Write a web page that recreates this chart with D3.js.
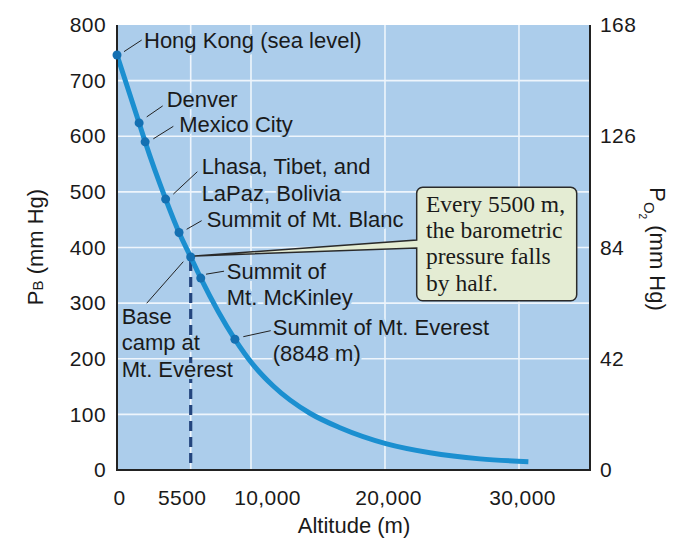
<!DOCTYPE html>
<html><head><meta charset="utf-8">
<script src="https://cdn.jsdelivr.net/npm/d3@7/dist/d3.min.js"></script>
<style>body{margin:0;background:#fff}svg{display:block}</style>
</head><body><svg id="c" width="682" height="548"></svg>
<script>
// ---- data ----
const altitudeTicks = [0, 5500, 10000, 20000, 30000];
const altitudeTickLabels = ["0", "5500", "10,000", "20,000", "30,000"];
const altitudeGrid = [5500, 10000, 20000, 30000];
const pbTicks = [0, 100, 200, 300, 400, 500, 600, 700, 800];
const po2Ticks = [0, 42, 84, 126, 168];
const curveAltitudes = [0, 1650, 2100, 3630, 4630, 5500, 6250, 8800, 10170, 11660, 14400, 16640, 20130, 23360, 27090, 30700];
const curvePressures = [746, 624, 590, 487, 427, 383, 345, 235, 189, 151, 102, 76, 47, 31, 20, 15];
const siteNames = [
  ["Hong Kong (sea level)"], ["Denver"], ["Mexico City"],
  ["Lhasa, Tibet, and", "LaPaz, Bolivia"], ["Summit of Mt. Blanc"],
  ["Base", "camp at", "Mt. Everest"], ["Summit of", "Mt. McKinley"],
  ["Summit of Mt. Everest", "(8848 m)"]
];
const siteAltitudes = [0, 1650, 2100, 3630, 4630, 5500, 6250, 8800];
const sitePressures = [746, 624, 590, 487, 427, 383, 345, 235];
const halvingAltitude = 5500;
const calloutLines = ["Every 5500 m,", "the barometric", "pressure falls", "by half."];

// ---- layout (positions/styles) ----
const L = {left: 117, right: 590, top: 25, bottom: 470};
const labelOffsets = [ // label dx,dy and leader from/to, relative to the point
  {dx: 27, dy: -7,   l: [7, -3.4, 24.7, -15]},
  {dx: 27.6, dy: -16, l: [7.6, -6, 23.6, -17]},
  {dx: 34, dy: -9.5, l: [8.2, -3, 28.2, -15.5]},
  {dx: 36, dy: -25,  l: [7.7, -5, 31.7, -27.4]},
  {dx: 27.6, dy: -5.8, l: [7.6, -3.2, 22.6, -11.8]},
  {dx: -69, dy: 67,  l: [-7.4, 4.7, -44, 46.3]},
  {dx: 26, dy: 0.5,  l: [5.3, -3.9, 23.3, -6.9]},
  {dx: 37.8, dy: -4.3, l: [8.4, -2.6, 35.8, -8.6]}
];
const tickLabelShift = [2, -9, 16, 3, 3];
const SANS = "'Liberation Sans', Arial, Helvetica, sans-serif";
const SERIF = "'Liberation Serif', 'Times New Roman', serif";
const BG = "#accdeb";

const svg = d3.select("#c");
const x = d3.scaleLinear().domain([0, 35300]).range([L.left, L.right]);
const y = d3.scaleLinear().domain([0, 800]).range([L.bottom, L.top]);
const y2 = d3.scaleLinear().domain([0, 168]).range([L.bottom, L.top]);

// background
svg.append("rect").attr("x", L.left).attr("y", L.top)
  .attr("width", L.right - L.left).attr("height", L.bottom - L.top).attr("fill", BG);

// grid
svg.append("g").selectAll("line").data(pbTicks.filter(d => d > 0 && d < 800)).join("line")
  .attr("x1", L.left).attr("x2", L.right).attr("y1", d => y(d)).attr("y2", d => y(d))
  .attr("stroke", "#eef5fc").attr("stroke-width", 1.6);
svg.append("g").selectAll("line").data(altitudeGrid).join("line")
  .attr("x1", d => x(d)).attr("x2", d => x(d)).attr("y1", L.top).attr("y2", L.bottom)
  .attr("stroke", "#eef5fc").attr("stroke-width", 1.6);

// axes
const axL = svg.append("g").attr("transform", `translate(${L.left},0)`)
  .call(d3.axisLeft(y).tickValues(pbTicks).tickSize(0).tickPadding(11));
const axR = svg.append("g").attr("transform", `translate(${L.right},0)`)
  .call(d3.axisRight(y2).tickValues(po2Ticks).tickSize(0).tickPadding(10));
const axB = svg.append("g").attr("transform", `translate(0,${L.bottom})`)
  .call(d3.axisBottom(x).tickValues(altitudeTicks).tickSize(0).tickPadding(20)
    .tickFormat((d, i) => altitudeTickLabels[i]));
axB.selectAll(".tick text").attr("dx", (d, i) => tickLabelShift[i]);
[axL, axR, axB].forEach(a => {
  a.select(".domain").remove();
  a.selectAll("text").attr("font-family", SANS).attr("font-size", 21)
    .attr("letter-spacing", 0.4).attr("fill", "#1a1a1a");
});

// dashed line at 5500 m
svg.append("line").attr("x1", x(halvingAltitude)).attr("x2", x(halvingAltitude))
  .attr("y1", y(sitePressures[5]) + 4).attr("y2", L.bottom)
  .attr("stroke", "#24457d").attr("stroke-width", 3.2).attr("stroke-dasharray", "10,6");

// curve
const pts = curveAltitudes.map((a, i) => [x(a), y(curvePressures[i])]);
svg.append("path").attr("d", d3.line().curve(d3.curveMonotoneX)(pts))
  .attr("fill", "none").attr("stroke", "#1b8fd0").attr("stroke-width", 5);

// axis frame lines
const frame = svg.append("g").attr("stroke", "#222").attr("stroke-width", 2);
frame.append("line").attr("x1", L.left).attr("x2", L.left).attr("y1", L.top).attr("y2", L.bottom + 1);
frame.append("line").attr("x1", L.right).attr("x2", L.right).attr("y1", L.top).attr("y2", L.bottom + 1);
frame.append("line").attr("x1", L.left).attr("x2", L.right).attr("y1", L.bottom).attr("y2", L.bottom);

// site markers
svg.append("g").selectAll("circle").data(siteAltitudes).join("circle")
  .attr("cx", d => x(d)).attr("cy", (d, i) => y(sitePressures[i])).attr("r", 4.5)
  .attr("fill", "#1470b2");

// leaders and labels (labels knock out what is under them)
const lab = svg.append("g");
siteAltitudes.forEach((a, i) => {
  const px = x(a), py = y(sitePressures[i]), o = labelOffsets[i];
  lab.append("line").attr("x1", px + o.l[0]).attr("y1", py + o.l[1])
    .attr("x2", px + o.l[2]).attr("y2", py + o.l[3])
    .attr("stroke", "#222").attr("stroke-width", 1);
  const t = lab.append("text").attr("font-family", SANS).attr("font-size", 22).attr("fill", "#1a1a1a")
    .attr("stroke", BG).attr("stroke-width", 4).attr("stroke-linejoin", "round")
    .style("paint-order", "stroke");
  siteNames[i].forEach((s, k) => {
    t.append("tspan").attr("x", px + o.dx).attr("y", py + o.dy + k * 26.5).text(s);
  });
});

// callout
const bx0 = 416.7, by0 = 187.3, bx1 = 576.7, by1 = 300.7, r = 6;
const ax = x(halvingAltitude) + 4, ay = y(sitePressures[5]) - 1;
const p1 = 240, p2 = 248;
const cpath = `M${bx0 + r},${by0} H${bx1 - r} A${r},${r} 0 0 1 ${bx1},${by0 + r} V${by1 - r} A${r},${r} 0 0 1 ${bx1 - r},${by1} H${bx0 + r} A${r},${r} 0 0 1 ${bx0},${by1 - r} V${p2} L${ax},${ay} L${bx0},${p1} V${by0 + r} A${r},${r} 0 0 1 ${bx0 + r},${by0} Z`;
svg.append("path").attr("d", cpath).attr("fill", "#e4ecd3").attr("stroke", "#2a2a2a").attr("stroke-width", 1.5);
const ct = svg.append("text").attr("font-family", SERIF).attr("font-size", 23.5).attr("fill", "#1a1a1a");
calloutLines.forEach((s, k) => ct.append("tspan").attr("x", 426).attr("y", 211.7 + k * 26.3).text(s));

// axis titles
svg.append("text").attr("x", 354).attr("y", 533).attr("text-anchor", "middle")
  .attr("font-family", SANS).attr("font-size", 22).attr("fill", "#1a1a1a").text("Altitude (m)");
const tl = svg.append("text").attr("transform", "translate(43,247) rotate(-90)").attr("text-anchor", "middle")
  .attr("font-family", SANS).attr("font-size", 22).attr("fill", "#1a1a1a");
tl.append("tspan").text("P");
tl.append("tspan").attr("font-size", 15).text("B");
tl.append("tspan").text(" (mm Hg)");
const tr = svg.append("text").attr("transform", "translate(650,249) rotate(90)").attr("text-anchor", "middle")
  .attr("font-family", SANS).attr("font-size", 22).attr("fill", "#1a1a1a");
tr.append("tspan").text("P");
tr.append("tspan").attr("font-size", 15).attr("dy", 6).text("O");
tr.append("tspan").attr("font-size", 10).attr("dy", 5).text("2");
tr.append("tspan").attr("dy", -11).text(" (mm Hg)");
</script></body></html>
